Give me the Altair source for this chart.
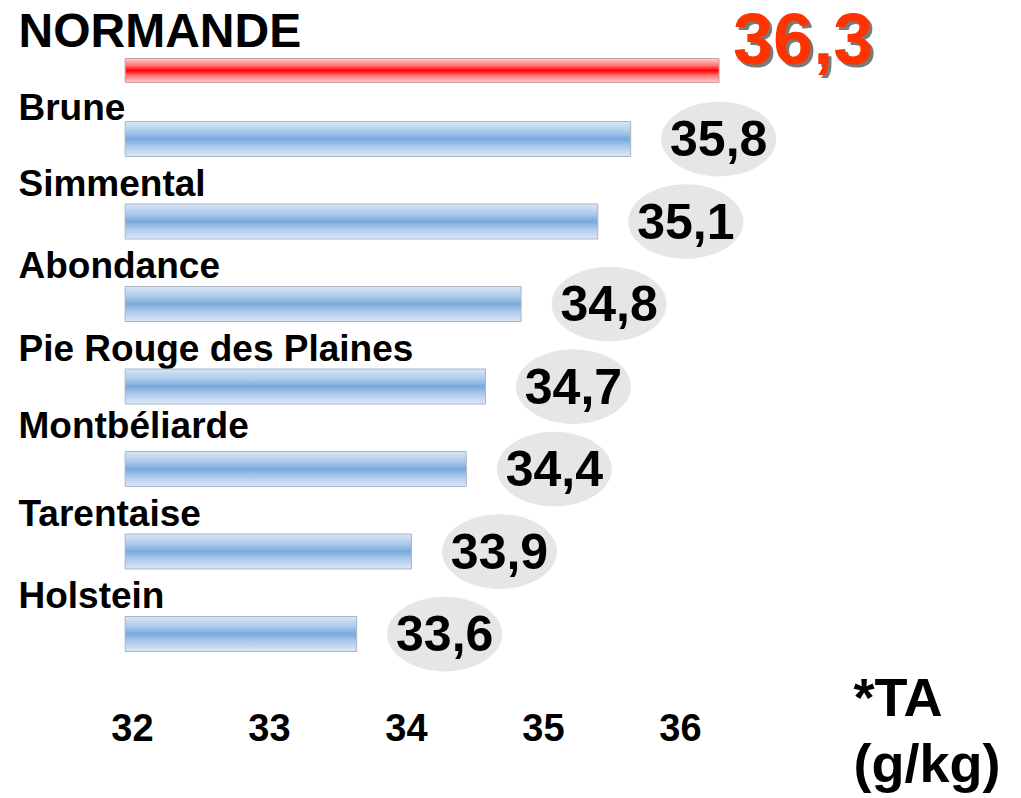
import altair as alt
import pandas as pd

breeds = ["NORMANDE", "Brune", "Simmental", "Abondance", "Pie Rouge des Plaines",
          "Montbéliarde", "Tarentaise", "Holstein"]
bar_ends = [36.285, 35.64, 35.40, 34.84, 34.58, 34.44, 34.04, 33.64]
tb_values = [36.3, 35.8, 35.1, 34.8, 34.7, 34.4, 33.9, 33.6]
bar_start = 31.95
x_ticks = [32, 33, 34, 35, 36]
unit_label = ["*TA", "(g/kg)"]

df = pd.DataFrame({"breed": breeds, "end": bar_ends, "value": tb_values})
df["start"] = bar_start
df["top"] = [b == "NORMANDE" for b in breeds]

FONT = "Liberation Sans, Arial, sans-serif"

xscale = alt.Scale(domain=[31.0365, 38.489], nice=False, zero=False)
x_axis = alt.Axis(values=x_ticks, domain=False, ticks=False, grid=False, offset=-93,
                  labelFont="Liberation Sans Narrow, Liberation Sans, Arial, sans-serif",
                  labelFontSize=38, labelFontWeight="bold",
                  labelColor="black", labelPadding=5, labelFlush=False,
                  title=unit_label, titleFont=FONT, titleFontSize=54,
                  titleFontWeight="bold", titleColor="black", titleAlign="left",
                  titleBaseline="alphabetic", titleX=853, titleY=10,
                  titleLineHeight=66, titleAngle=0)
y_axis = alt.Axis(domain=False, ticks=False, tickSize=0, grid=False, title=None,
                  labelAlign="left", labelPadding=-18, labelLimit=0,
                  labelFont=FONT, labelFontWeight="bold", labelColor="black",
                  labelBaseline="middle",
                  labelFontSize={"condition": {"test": "datum.value == 'NORMANDE'", "value": 48}, "value": 37},
                  labelOffset={"condition": [
                      {"test": "datum.value == 'NORMANDE'", "value": -24},
                      {"test": "datum.value == 'Brune'", "value": -30},
                      {"test": "datum.value == 'Montbéliarde'", "value": -42}],
                      "value": -37})
yenc = alt.Y("breed:N", sort=breeds,
             scale=alt.Scale(domain=breeds, range=[15.25, 675.25], paddingInner=0, paddingOuter=0),
             axis=y_axis)

blue_grad = alt.Gradient(gradient="linear", x1=0, x2=0, y1=0, y2=1, stops=[
    alt.GradientStop(color="#dbe7f6", offset=0),
    alt.GradientStop(color="#a9c8ea", offset=0.3),
    alt.GradientStop(color="#78a8dc", offset=0.5),
    alt.GradientStop(color="#a9c8ea", offset=0.7),
    alt.GradientStop(color="#dce8f7", offset=1)])
red_grad = alt.Gradient(gradient="linear", x1=0, x2=0, y1=0, y2=1, stops=[
    alt.GradientStop(color="#ffd0d0", offset=0),
    alt.GradientStop(color="#ff7070", offset=0.3),
    alt.GradientStop(color="#ff0000", offset=0.5),
    alt.GradientStop(color="#ff7070", offset=0.7),
    alt.GradientStop(color="#ffd0d0", offset=1)])

base = alt.Chart(df)

blue_bars = base.transform_filter("!datum.top").mark_bar(
    size=35, color=blue_grad, stroke="#a9b4c2", strokeWidth=1
).encode(x=alt.X("start:Q", scale=xscale, axis=x_axis), x2="end:Q", y=yenc)

red_bar = base.transform_filter("datum.top").mark_bar(
    size=24, yOffset=14, color=red_grad, stroke="#c8a0a0", strokeWidth=1
).encode(x=alt.X("start:Q", scale=xscale, axis=x_axis), x2="end:Q", y=yenc)

ellipse = "M -1 0 A 1 0.65 0 1 0 1 0 A 1 0.65 0 1 0 -1 0 Z"
bubbles = base.transform_filter("!datum.top").mark_point(
    shape=ellipse, size=13225, filled=True, color="#e6e6e6", opacity=1, xOffset=88
).encode(x=alt.X("end:Q", scale=xscale, axis=x_axis), y=yenc)

label_calc = "replace(format(datum.value, '.1f'), '.', ',')"
bubble_text = base.transform_filter("!datum.top").transform_calculate(
    lab=label_calc
).mark_text(font=FONT, fontSize=50, fontWeight="bold", color="black",
            align="center", baseline="middle", xOffset=88, dy=2
).encode(x=alt.X("end:Q", scale=xscale, axis=x_axis), y=yenc, text="lab:N")

top_shadow = base.transform_filter("datum.top").transform_calculate(
    lab=label_calc
).mark_text(font=FONT, fontSize=72, fontWeight="bold", color="#222222", opacity=0.6,
            align="left", baseline="middle", xOffset=17, yOffset=-12
).encode(x=alt.X("end:Q", scale=xscale, axis=x_axis), y=yenc, text="lab:N")

top_text = base.transform_filter("datum.top").transform_calculate(
    lab=label_calc
).mark_text(font=FONT, fontSize=72, fontWeight="bold", color="#ff3300",
            align="left", baseline="middle", xOffset=14, yOffset=-15
).encode(x=alt.X("end:Q", scale=xscale, axis=x_axis), y=yenc, text="lab:N")

chart = alt.layer(blue_bars, red_bar, bubbles, bubble_text, top_shadow, top_text).properties(
    width=1021, height=798, autosize=alt.AutoSizeParams(type="none"), padding=0,
    background="white"
).configure_view(stroke=None)

chart.save("out.html", embed_options={"renderer": "svg", "actions": False})
